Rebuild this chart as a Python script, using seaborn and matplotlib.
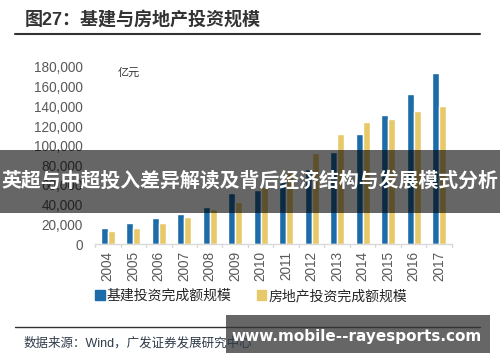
import numpy as np
import pandas as pd
import matplotlib
matplotlib.use("Agg")
import matplotlib.pyplot as plt
import seaborn as sns
from matplotlib.lines import Line2D
from matplotlib.patches import Rectangle

years = ['2004', '2005', '2006', '2007', '2008', '2009', '2010',
         '2011', '2012', '2013', '2014', '2015', '2016', '2017']
infra = [16700, 21800, 26300, 30400, 37800, 51400, 55000,
         64000, 76700, 93400, 112100, 131600, 152400, 173500]
estate = [13300, 16000, 21200, 27900, 35100, 42500, 58300,
          75500, 92300, 111400, 123700, 126800, 135300, 140000]
series_names = ['基建投资完成额规模', '房地产投资完成额规模']
yticks = [0, 20000, 40000, 60000, 80000, 100000, 120000, 140000, 160000, 180000]

BLUE = '#1b6ca8'
YELLOW = '#e8c96a'

df = pd.DataFrame({
    'year': years * 2,
    'value': infra + estate,
    'series': [series_names[0]] * len(years) + [series_names[1]] * len(years),
})

sns.set_style('white')
plt.rcParams['font.family'] = ['Liberation Sans', 'Noto Sans CJK SC', 'DejaVu Sans']

fig = plt.figure(figsize=(5, 3.62), dpi=100)
ax = fig.add_axes([95 / 500, 1 - 244 / 362, (452 - 95) / 500, (244 - 67) / 362])

sns.barplot(data=df, x='year', y='value', hue='series', palette=[BLUE, YELLOW],
            width=0.56, gap=0, saturation=1, ax=ax)

ax.set_ylim(0, 180000)
ax.set_xlim(-0.5, len(years) - 0.5)
ax.set_yticks(yticks)
ax.set_yticklabels([f'{v:,}' for v in yticks], fontsize=9.8, color='#595959')
ax.set_xticks(range(len(years)))
ax.set_xticklabels(years, rotation=90, fontsize=9.8, color='#595959')
ax.tick_params(axis='y', length=0, pad=9)
ax.tick_params(axis='x', length=0, pad=5)
ax.set_xlabel('')
ax.set_ylabel('')
for s in ['top', 'right', 'left']:
    ax.spines[s].set_visible(False)
ax.spines['bottom'].set_color('#d9d9d9')
ax.spines['bottom'].set_linewidth(1)
# separators between categories
for i in range(len(years) + 1):
    ax.plot([i - 0.5, i - 0.5], [0, -3500], color='#d9d9d9', lw=1, clip_on=False)

handles = [Rectangle((0, 0), 1, 1, color=BLUE), Rectangle((0, 0), 1, 1, color=YELLOW)]
ax.legend(handles, series_names, loc='center', bbox_to_anchor=(251 / 500, 1 - 296 / 362),
          bbox_transform=fig.transFigure, ncol=2, frameon=False, fontsize=10,
          handlelength=0.7, handleheight=0.7, handletextpad=0.15, columnspacing=1.8)

ax.text(118 / 500, 1 - 73 / 362, '亿元', transform=fig.transFigure, fontsize=8,
        color='#333333', va='center', ha='left')

fig.text(25 / 500, 1 - 20 / 362, '图27：基建与房地产投资规模', fontsize=13,
         fontweight='bold', color='#333333', va='center', ha='left')
fig.add_artist(Line2D([15 / 500, 480 / 500], [1 - 34 / 362] * 2,
                      transform=fig.transFigure, color='#333333', lw=1.5))
fig.add_artist(Line2D([15 / 500, 480 / 500], [1 - 327 / 362] * 2,
                      transform=fig.transFigure, color='#333333', lw=1))
fig.text(24 / 500, 1 - 343 / 362, '数据来源：Wind，广发证券发展研究中心', fontsize=9,
         color='#2f3b4a', va='center', ha='left')

# watermark overlays
fig.add_artist(Rectangle((0, 1 - 213 / 362), 1, 63 / 362, transform=fig.transFigure,
                         facecolor='black', alpha=0.6, edgecolor='none'))
fig.text(250 / 500, 1 - 181 / 362, '英超与中超投入差异解读及背后经济结构与发展模式分析',
         fontsize=14.3, fontweight='bold', color='white', va='center', ha='center')
fig.add_artist(Rectangle((226 / 500, 1 - 353 / 362), (490 - 226) / 500, 38 / 362,
                         transform=fig.transFigure, facecolor='black', alpha=0.6,
                         edgecolor='none'))
fig.text(357 / 500, 1 - 336 / 362, 'www.mobile--rayesports.com', fontsize=11,
         fontweight='bold', color='white', va='center', ha='center',
         family=['DejaVu Sans'])

fig.savefig('out.png', dpi=100)
